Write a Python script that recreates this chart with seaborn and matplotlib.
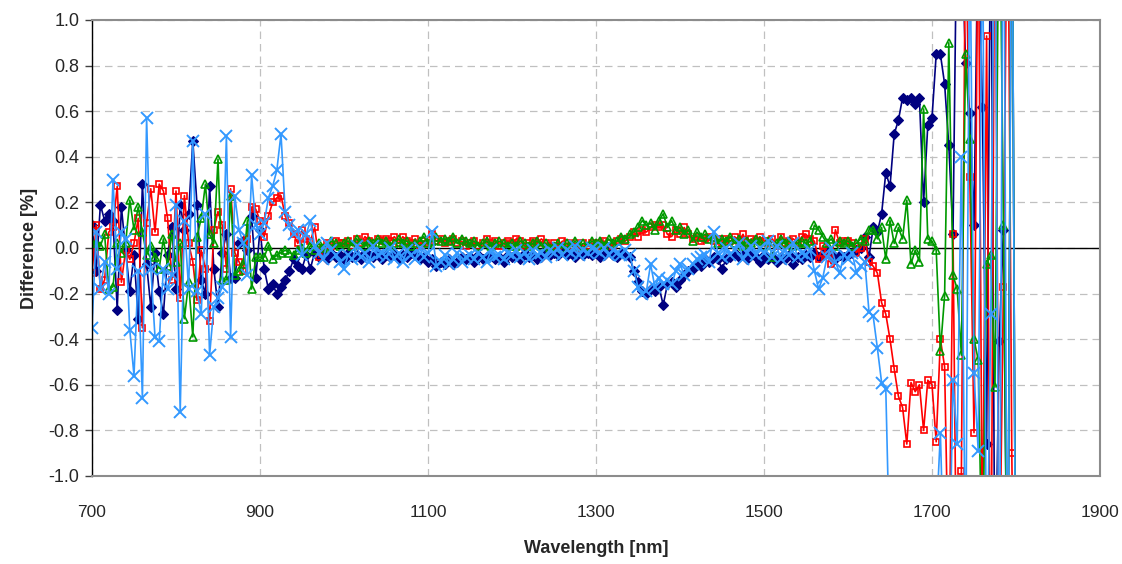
import matplotlib
matplotlib.use("Agg")
import matplotlib.pyplot as plt
import seaborn as sns

# Wavelength grid (nm) shared by all four difference curves
WAVELENGTH = list(range(700, 1801, 5))

# Difference [%] per wavelength, one list per measurement series (10 values = 50 nm per row)
diff_s1 = [
    0.10, -0.10, 0.19, 0.12, 0.15, 0.12, -0.27, 0.18, -0.01, -0.19,
    -0.03, -0.31, 0.28, -0.07, -0.26, -0.02, -0.19, -0.29, -0.03, 0.09,
    -0.18, 0.19, 0.08, 0.15, 0.47, 0.19, -0.14, -0.20, 0.27, -0.09,
    -0.26, -0.02, 0.06, -0.13, -0.13, 0.02, 0.03, -0.01, 0.14, -0.13,
    0.08, -0.09, -0.18, -0.16, -0.20, -0.17, -0.14, -0.10, -0.05, -0.08,
    -0.09, -0.03, -0.09, -0.02, -0.04, -0.03, -0.05, -0.02, -0.04, -0.03,
    -0.05, -0.02, -0.04, -0.03, -0.05, -0.02, -0.03, -0.04, -0.02, -0.05,
    -0.03, -0.04, -0.02, -0.05, -0.03, -0.04, -0.02, -0.03, -0.05, -0.04,
    -0.06, -0.05, -0.08, -0.06, -0.07, -0.05, -0.07, -0.06, -0.04, -0.05,
    -0.04, -0.06, -0.03, -0.05, -0.04, -0.03, -0.05, -0.04, -0.06, -0.03,
    -0.04, -0.03, -0.05, -0.02, -0.04, -0.03, -0.05, -0.04, -0.02, -0.03,
    -0.02, -0.03, -0.01, -0.03, -0.02, -0.04, -0.01, -0.03, -0.02, -0.03,
    -0.02, -0.04, -0.03, -0.01, -0.03, -0.04, -0.02, -0.03, -0.04, -0.10,
    -0.15, -0.19, -0.20, -0.18, -0.19, -0.17, -0.25, -0.16, -0.15, -0.17,
    -0.14, -0.12, -0.10, -0.09, -0.07, -0.08, -0.05, -0.06, -0.04, -0.05,
    -0.09, -0.05, -0.04, -0.02, -0.04, -0.03, -0.05, -0.02, -0.04, -0.06,
    -0.03, -0.05, -0.04, -0.06, -0.04, -0.05, -0.03, -0.07, -0.04, -0.05,
    -0.03, -0.04, -0.02, -0.04, -0.03, -0.01, -0.02, -0.05, -0.03, -0.04,
    -0.03, -0.02, -0.01, 0.00, 0.05, -0.04, 0.09, 0.07, 0.15, 0.33,
    0.27, 0.50, 0.56, 0.66, 0.65, 0.66, 0.63, 0.66, 0.20, 0.54,
    0.57, 0.85, 0.85, 0.72, 0.45, 0.06, 1.60, 1.40, 0.81, 0.59,
    0.10, 1.50, 0.62, -0.86, 1.60, -1.60, -0.41, 0.08, -1.80, 2.00,
    -2.00,
]

diff_s2 = [
    -0.11, 0.10, -0.18, -0.14, 0.07, 0.09, 0.27, -0.15, -0.01, -0.05,
    0.02, 0.13, -0.35, 0.11, 0.26, 0.07, 0.28, 0.25, 0.13, -0.14,
    0.25, -0.22, 0.23, 0.02, -0.06, -0.23, -0.01, -0.09, -0.32, 0.08,
    0.16, 0.10, -0.09, 0.26, -0.02, -0.06, -0.10, 0.04, 0.18, 0.17,
    0.12, 0.05, 0.14, 0.20, 0.22, 0.23, 0.14, 0.11, 0.06, 0.02,
    0.08, 0.04, 0.03, 0.09, -0.04, 0.00, 0.02, 0.01, 0.03, 0.02,
    0.02, 0.03, 0.01, 0.04, 0.02, 0.05, 0.03, 0.02, 0.04, 0.03,
    0.04, 0.03, 0.05, 0.02, 0.05, 0.03, 0.02, 0.04, 0.01, 0.03,
    0.02, 0.06, 0.03, 0.04, 0.02, 0.03, 0.04, 0.02, 0.03, 0.01,
    0.02, 0.03, 0.01, 0.02, 0.04, 0.02, 0.03, 0.01, 0.02, 0.03,
    0.02, 0.04, 0.03, 0.01, 0.02, 0.03, 0.02, 0.04, 0.02, 0.01,
    0.02, 0.01, 0.03, 0.02, 0.01, 0.02, 0.00, 0.02, 0.01, 0.02,
    0.01, 0.02, 0.03, 0.02, 0.01, 0.03, 0.04, 0.03, 0.05, 0.07,
    0.05, 0.08, 0.07, 0.09, 0.10, 0.09, 0.10, 0.06, 0.05, 0.08,
    0.06, 0.09, 0.06, 0.04, 0.05, 0.03, 0.04, 0.05, 0.03, 0.04,
    0.02, 0.04, 0.03, 0.05, 0.03, 0.06, 0.02, 0.04, 0.03, 0.05,
    0.03, 0.02, 0.04, 0.01, 0.05, 0.02, 0.03, 0.04, 0.02, 0.05,
    0.06, 0.04, 0.03, -0.05, 0.01, -0.03, -0.07, 0.08, 0.02, 0.03,
    0.03, 0.02, -0.02, 0.00, 0.04, -0.06, -0.08, -0.11, -0.24, -0.29,
    -0.40, -0.53, -0.65, -0.70, -0.86, -0.59, -0.63, -0.60, -0.80, -0.58,
    -0.60, -0.85, -0.40, -0.52, -1.50, 0.06, -1.80, -0.98, 1.50, 0.31,
    -0.81, 1.60, -1.40, 0.93, -1.80, 1.80, -1.60, -0.17, 1.80, -0.90,
    -2.50,
]

diff_s3 = [
    0.02, 0.02, 0.01, 0.06, -0.18, -0.17, 0.02, -0.02, 0.02, 0.21,
    0.08, 0.18, 0.07, -0.03, 0.01, -0.04, -0.09, 0.04, -0.08, 0.06,
    -0.06, 0.02, -0.31, -0.15, -0.39, 0.05, 0.13, 0.28, 0.06, 0.02,
    0.39, -0.14, -0.14, 0.23, -0.12, -0.10, -0.07, 0.12, -0.18, -0.04,
    -0.04, -0.04, 0.01, -0.05, -0.03, -0.02, -0.01, -0.02, -0.03, -0.01,
    0.00, -0.02, 0.01, -0.01, 0.02, 0.00, 0.01, 0.03, 0.02, 0.01,
    0.02, 0.03, 0.01, 0.04, 0.02, 0.01, 0.03, 0.02, 0.04, 0.02,
    0.03, 0.01, 0.02, 0.04, 0.02, 0.03, 0.01, 0.02, 0.03, 0.05,
    0.02, 0.03, 0.05, 0.03, 0.04, 0.03, 0.05, 0.02, 0.04, 0.03,
    0.02, 0.03, 0.01, 0.02, 0.03, 0.01, 0.02, 0.03, 0.02, 0.01,
    0.02, 0.01, 0.03, 0.02, 0.01, 0.02, 0.03, 0.01, 0.02, 0.00,
    0.01, 0.02, 0.00, 0.02, 0.01, 0.03, 0.01, 0.02, 0.01, 0.03,
    0.02, 0.03, 0.01, 0.04, 0.02, 0.03, 0.05, 0.04, 0.06, 0.07,
    0.09, 0.12, 0.10, 0.11, 0.08, 0.12, 0.15, 0.09, 0.12, 0.08,
    0.09, 0.06, 0.08, 0.03, 0.07, 0.05, 0.06, 0.04, 0.05, 0.02,
    0.04, 0.03, 0.05, 0.02, 0.04, 0.01, 0.03, 0.02, 0.04, 0.03,
    0.01, 0.03, -0.04, 0.02, 0.04, 0.02, 0.03, 0.01, 0.02, 0.03,
    0.02, 0.03, 0.10, 0.08, 0.05, 0.02, 0.04, 0.01, 0.03, 0.02,
    0.03, 0.01, 0.02, 0.04, 0.03, 0.08, 0.08, 0.04, 0.09, -0.05,
    0.12, 0.02, 0.09, 0.04, 0.21, -0.07, -0.01, -0.06, 0.61, 0.04,
    0.03, -0.01, -0.45, -0.21, 0.90, -0.12, -0.18, -0.47, 0.85, 0.48,
    -0.40, -0.49, -1.50, -0.07, -0.03, -0.61, 1.80, 0.10, -1.80, 2.00,
    -2.00,
]

diff_s4 = [
    -0.35, 0.07, -0.18, -0.06, -0.20, 0.30, -0.09, 0.07, 0.04, -0.36,
    -0.56, -0.10, -0.66, 0.57, -0.09, -0.39, -0.41, -0.09, -0.18, -0.12,
    0.19, -0.72, 0.12, -0.18, 0.47, -0.19, -0.29, 0.15, -0.47, -0.26,
    -0.22, -0.17, 0.49, -0.39, 0.23, 0.08, 0.02, -0.12, 0.32, 0.10,
    0.06, 0.11, 0.22, 0.27, 0.34, 0.50, 0.16, 0.10, 0.06, 0.08,
    -0.03, 0.06, 0.12, 0.01, -0.02, -0.05, 0.02, -0.01, -0.03, -0.06,
    -0.09, -0.03, -0.05, 0.01, -0.04, -0.02, -0.06, 0.01, -0.03, -0.02,
    -0.04, 0.00, -0.05, -0.02, -0.06, -0.01, -0.03, -0.05, 0.00, -0.04,
    -0.02, 0.07, -0.08, -0.06, -0.03, -0.07, -0.05, -0.02, -0.06, -0.04,
    -0.03, -0.05, -0.02, -0.04, -0.06, -0.01, -0.04, -0.03, -0.05, -0.02,
    -0.03, -0.01, -0.04, -0.02, -0.05, -0.01, -0.03, -0.02, -0.04, -0.01,
    -0.02, 0.00, -0.03, -0.01, -0.02, 0.01, -0.03, -0.01, -0.02, 0.00,
    -0.01, -0.02, 0.00, -0.03, -0.01, -0.02, -0.03, -0.01, -0.03, -0.10,
    -0.17, -0.20, -0.19, -0.07, -0.17, -0.13, -0.16, -0.14, -0.16, -0.10,
    -0.07, -0.12, -0.09, -0.07, -0.05, -0.04, -0.03, -0.06, 0.07, -0.02,
    -0.04, 0.00, -0.03, -0.01, 0.02, -0.05, -0.02, 0.01, -0.03, 0.00,
    -0.02, 0.03, -0.04, 0.01, -0.05, -0.01, -0.03, 0.02, -0.04, -0.02,
    -0.03, -0.01, -0.10, -0.18, -0.13, -0.04, 0.00, -0.06, -0.11, -0.03,
    -0.05, -0.02, -0.11, -0.08, -0.06, -0.28, -0.30, -0.44, -0.59, -0.62,
    -1.40, -1.80, -2.00, -1.90, -2.10, -1.80, -1.70, -1.90, -1.60, -1.50,
    -1.30, -1.20, -0.81, -1.50, -1.60, -0.58, -0.86, 0.40, -1.50, 1.50,
    -0.55, -0.89, 1.60, -1.60, -0.29, 1.80, -1.90, 2.00, -2.00, 2.00,
    -2.00,
]

X_TICKS = [700, 900, 1100, 1300, 1500, 1700, 1900]
Y_TICKS = [-1.0, -0.8, -0.6, -0.4, -0.2, 0.0, 0.2, 0.4, 0.6, 0.8, 1.0]

for series in (diff_s1, diff_s2, diff_s3, diff_s4):
    assert len(series) == len(WAVELENGTH)

sns.set_style("white")
plt.rcParams["font.family"] = ["Liberation Sans", "DejaVu Sans"]

fig = plt.figure(figsize=(11.22, 5.64), dpi=100)
ax = fig.add_axes([92 / 1122, 1 - 476 / 564, (1100 - 92) / 1122, (476 - 20) / 564])

series_styles = [
    (diff_s1, dict(color="#000080", marker="D", markersize=5,
                   markerfacecolor="#000080", markeredgecolor="#000080",
                   markeredgewidth=0.8)),
    (diff_s2, dict(color="#FF0000", marker="s", markersize=5,
                   markerfacecolor="none", markeredgecolor="#FF0000",
                   markeredgewidth=1.2)),
    (diff_s3, dict(color="#009900", marker="^", markersize=6,
                   markerfacecolor="none", markeredgecolor="#009900",
                   markeredgewidth=1.2)),
    (diff_s4, dict(color="#3399FF", marker="x", markersize=8,
                   markeredgecolor="#3399FF", markeredgewidth=1.4)),
]

for values, style in series_styles:
    sns.lineplot(x=WAVELENGTH, y=values, ax=ax, linewidth=1.2,
                 estimator=None, sort=False, **style)

# zero reference line
ax.axhline(0, color="black", linewidth=1.0, zorder=1.5)

ax.set_xlim(700, 1900)
ax.set_ylim(-1.0, 1.0)
ax.set_xticks(X_TICKS)
ax.set_xticklabels([str(v) for v in X_TICKS])
ax.set_yticks(Y_TICKS)
ax.set_yticklabels([f"{v:.1f}" for v in Y_TICKS])

ax.set_axisbelow(True)
ax.grid(True, color="#c0c0c0", linestyle=(0, (6, 4)), linewidth=0.9)

for side in ("top", "right", "bottom"):
    ax.spines[side].set_color("#8c8c8c")
    ax.spines[side].set_linewidth(1.5)
ax.spines["left"].set_color("black")
ax.spines["left"].set_linewidth(1.0)

ax.tick_params(axis="y", direction="out", length=5, width=1, color="#404040",
               labelsize=13, pad=4, left=True)
ax.tick_params(axis="x", length=0, labelsize=12.5, pad=21)

ax.set_xlabel("Wavelength [nm]", fontsize=13, fontweight="bold")
ax.set_ylabel("Difference [%]", fontsize=13, fontweight="bold")
ax.xaxis.set_label_coords(0.5, -0.14)
ax.yaxis.set_label_coords(-0.054, 0.5)

fig.savefig("out.png", dpi=100)
